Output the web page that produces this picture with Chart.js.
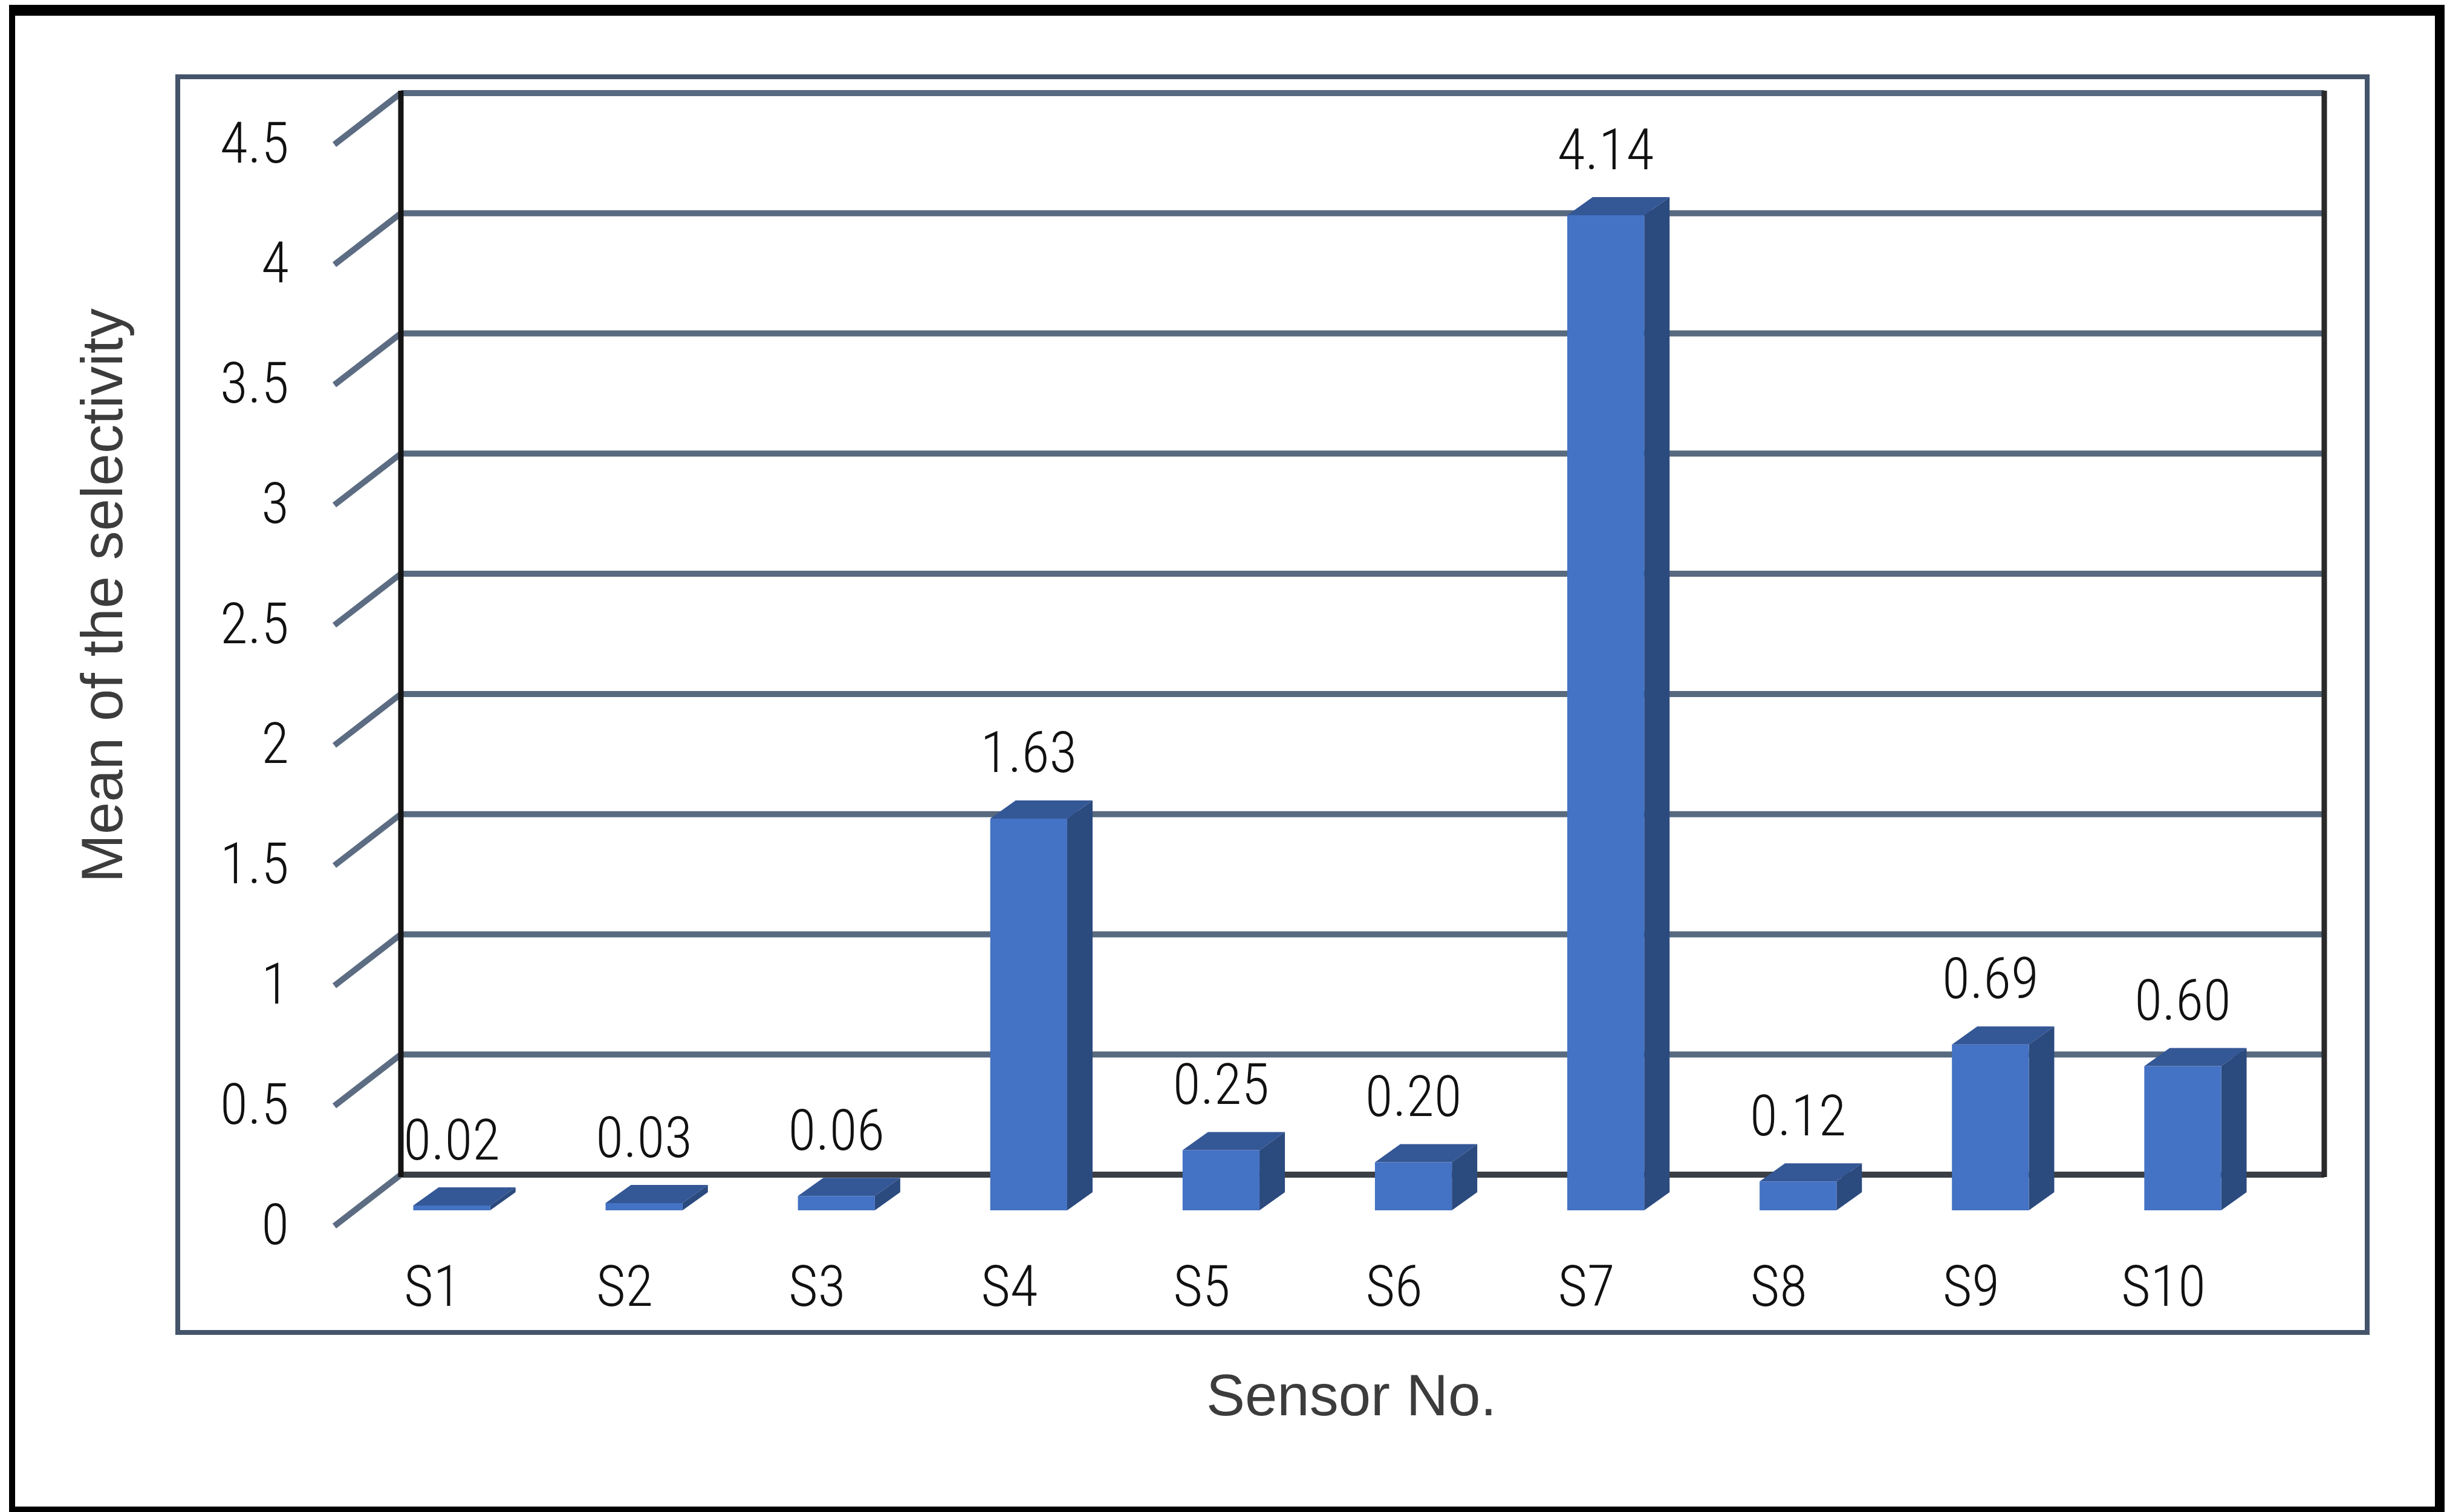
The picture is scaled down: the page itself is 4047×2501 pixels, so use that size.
<!DOCTYPE html>
<html>
<head>
<meta charset="utf-8">
<title>Mean of the selectivity</title>
<script src="https://cdn.jsdelivr.net/npm/chart.js@4"></script>
<style>
  html, body { margin: 0; padding: 0; background: #fff; overflow: hidden; }
  #outer { position: absolute; left: 15px; top: 8px; width: 4002px; height: 2466px;
           border-style: solid; border-color: #000; border-width: 18px 16px 16px 10px; }
  #inner { position: absolute; left: 290px; top: 123px; width: 3613px; height: 2069px;
           border: 8px solid #44546a; }
  #chart { position: absolute; left: 0; top: 0; }
</style>
</head>
<body>
<div id="outer"></div>
<div id="inner"></div>
<canvas id="chart" width="4047" height="2501"></canvas>
<script>
var sensors = ["S1", "S2", "S3", "S4", "S5", "S6", "S7", "S8", "S9", "S10"];
var selectivity = [0.02, 0.03, 0.06, 1.63, 0.25, 0.2, 4.14, 0.12, 0.69, 0.6];
var valueLabels = ["0.02", "0.03", "0.06", "1.63", "0.25", "0.20", "4.14", "0.12", "0.69", "0.60"];
var yTickLabels = ["0", "0.5", "1", "1.5", "2", "2.5", "3", "3.5", "4", "4.5"];
var yTitle = "Mean of the selectivity";
var xTitle = "Sensor No.";

//the "condensed" keyword goes in with the weight, chart.js rejects it as a style
var labelWeight = "300 condensed";
var labelSize = 94;
var labelFamily = "Roboto, sans-serif";
var titleFont = '96px "Liberation Sans", sans-serif';

//the depth of the fake 3D, measured from the plane the bars stand on
var wallDx = 75;
var wallDy = -59;
var frontTickDx = -35;
var frontTickDy = 26;
var barDepthX = 42;
var barDepthY = -30;

var threeD = {
  id: "threeD",
  beforeDatasetsDraw: function (chart) {
    var ctx = chart.ctx;
    var y = chart.scales.y;
    var left = chart.chartArea.left + wallDx;
    var right = chart.chartArea.right + wallDx;
    ctx.save();
    ctx.lineCap = "butt";

    //wall lines and the slanted ticks going forward from them
    y.ticks.forEach(function (tick, i) {
      var py = y.getPixelForValue(tick.value) + wallDy;
      ctx.lineWidth = 10;
      ctx.strokeStyle = i === 0 ? "#3a3f45" : "#586a80";
      ctx.beginPath();
      ctx.moveTo(left, py);
      ctx.lineTo(right, py);
      ctx.stroke();
      ctx.strokeStyle = "#5c6c82";
      ctx.beginPath();
      ctx.moveTo(left, py);
      ctx.lineTo(chart.chartArea.left + frontTickDx, py - wallDy + frontTickDy);
      ctx.stroke();
    });

    //left and right edges of the wall
    var top = y.getPixelForValue(y.max) + wallDy;
    var bottom = y.getPixelForValue(y.min) + wallDy;
    ctx.lineWidth = 9;
    ctx.strokeStyle = "#141414";
    ctx.beginPath();
    ctx.moveTo(left, top - 4);
    ctx.lineTo(left, bottom + 4);
    ctx.stroke();
    ctx.strokeStyle = "#2a2a2a";
    ctx.beginPath();
    ctx.moveTo(right, top - 4);
    ctx.lineTo(right, bottom + 4);
    ctx.stroke();

    //top and side faces of each bar
    chart.getDatasetMeta(0).data.forEach(function (bar) {
      var x0 = bar.x - bar.width / 2;
      var x1 = bar.x + bar.width / 2;
      ctx.fillStyle = "#345796";
      ctx.beginPath();
      ctx.moveTo(x0, bar.y);
      ctx.lineTo(x0 + barDepthX, bar.y + barDepthY);
      ctx.lineTo(x1 + barDepthX, bar.y + barDepthY);
      ctx.lineTo(x1, bar.y);
      ctx.closePath();
      ctx.fill();
      ctx.fillStyle = "#2b4a7e";
      ctx.beginPath();
      ctx.moveTo(x1, bar.y);
      ctx.lineTo(x1 + barDepthX, bar.y + barDepthY);
      ctx.lineTo(x1 + barDepthX, bar.base + barDepthY);
      ctx.lineTo(x1, bar.base);
      ctx.closePath();
      ctx.fill();
    });
    ctx.restore();
  },
  afterDatasetsDraw: function (chart) {
    var ctx = chart.ctx;
    ctx.save();
    ctx.fillStyle = "#111";
    ctx.font = labelWeight + " " + labelSize + "px " + labelFamily;
    ctx.textAlign = "center";
    ctx.textBaseline = "middle";
    chart.getDatasetMeta(0).data.forEach(function (bar, i) {
      ctx.fillText(valueLabels[i], bar.x, bar.y - 100);
    });

    //axis titles sit off centre from the plot so they can't use scale.title
    ctx.font = titleFont;
    ctx.fillStyle = "#3c3c3c";
    ctx.textBaseline = "alphabetic";
    ctx.fillText(xTitle, 2235, 2341);
    ctx.translate(202, 985);
    ctx.rotate(-Math.PI / 2);
    ctx.fillText(yTitle, 0, 0);
    ctx.restore();
  },
};

new Chart(document.getElementById("chart").getContext("2d"), {
  type: "bar",
  data: {
    labels: sensors,
    datasets: [
      {
        label: yTitle,
        data: selectivity,
        backgroundColor: "#4472c4",
        borderWidth: 0,
        categoryPercentage: 1,
        barPercentage: 0.4,
      },
    ],
  },
  options: {
    responsive: false,
    animation: false,
    layout: { padding: { left: 288, right: 278, top: 213, bottom: 100 } },
    plugins: {
      legend: { display: false },
      tooltip: { enabled: false },
    },
    scales: {
      x: {
        grid: { display: false, drawTicks: false },
        border: { display: false },
        afterFit: function (scale) {
          scale.height = 399;
        },
        ticks: {
          autoSkip: false,
          maxRotation: 0,
          minRotation: 0,
          padding: 78,
          labelOffset: -32,
          color: "#111",
          font: { family: labelFamily, size: labelSize, weight: labelWeight },
        },
      },
      y: {
        min: 0,
        max: 4.5,
        grid: { display: false, drawTicks: false },
        border: { display: false },
        afterFit: function (scale) {
          scale.width = 300;
        },
        ticks: {
          stepSize: 0.5,
          padding: 110,
          labelOffset: 32,
          crossAlign: "near",
          color: "#111",
          font: { family: labelFamily, size: labelSize, weight: labelWeight },
          callback: function (value, index) {
            return yTickLabels[index];
          },
        },
      },
    },
  },
  plugins: [threeD],
});
</script>
</body>
</html>
